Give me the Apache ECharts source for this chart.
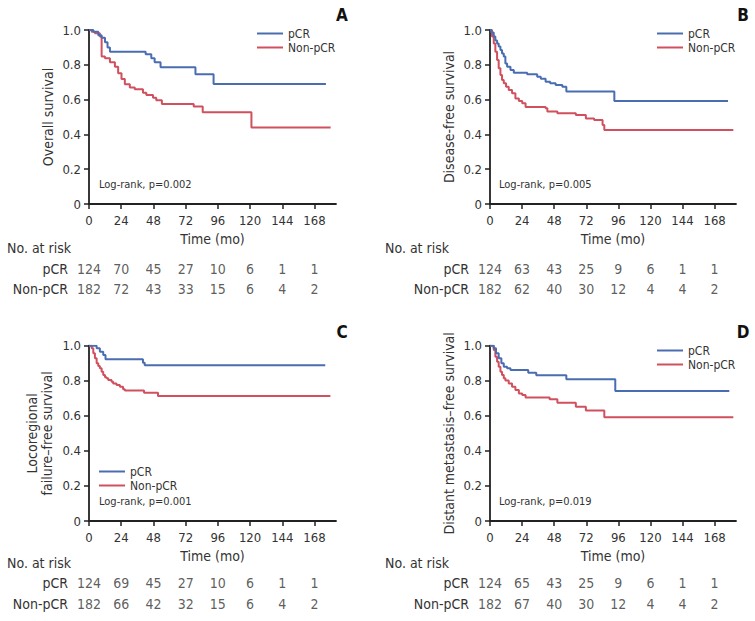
<!DOCTYPE html>
<html>
<head>
<meta charset="utf-8">
<script src="https://cdn.jsdelivr.net/npm/echarts@6/dist/echarts.min.js"></script>
<style>
html,body{margin:0;padding:0;background:#fff;}
#chart{width:755px;height:621px;}
</style>
</head>
<body>
<div id="chart"></div>
<script>
// ---------- DATA ----------
const timeTicks = [0, 24, 48, 72, 96, 120, 144, 168];
const groupNames = ['pCR', 'Non-pCR'];
const panelLetters = ['A', 'B', 'C', 'D'];
const yAxisNames = ['Overall survival', 'Disease-free survival', 'Locoregional\nfailure\u2013free survival', 'Distant metastasis\u2013free survival'];
const logRankTexts = ['Log-rank, p=0.002', 'Log-rank, p=0.005', 'Log-rank, p=0.001', 'Log-rank, p=0.019'];

// Kaplan-Meier steps [time (mo), survival]
const osPcr = [[0,1],[3.2,0.99],[6.9,0.97],[9.4,0.955],[11.9,0.93],[13.8,0.9],[15.6,0.875],[42.2,0.86],[46.4,0.837],[48.9,0.814],[53.3,0.786],[79.3,0.745],[92.8,0.69],[176.5,0.69]];
const osNon = [[0,1],[2,0.99],[4.4,0.981],[8.1,0.962],[9.4,0.847],[11.9,0.837],[15.6,0.814],[19.3,0.789],[21.7,0.751],[24.2,0.718],[26.7,0.688],[30.4,0.67],[34.1,0.659],[40.2,0.64],[42.7,0.626],[47.7,0.611],[50.1,0.596],[54.3,0.575],[78,0.56],[84.7,0.527],[121,0.439],[180,0.439]];
const dfsPcr = [[0,1],[1,0.985],[2.8,0.962],[4,0.94],[5.3,0.923],[6.5,0.905],[7.8,0.885],[9,0.865],[10.3,0.847],[11.5,0.808],[12.8,0.789],[15.3,0.77],[17.8,0.755],[27.8,0.745],[35.3,0.732],[38,0.72],[41.6,0.703],[45,0.694],[49.1,0.684],[54.1,0.674],[57.1,0.646],[93,0.592],[178,0.592]];
const dfsNon = [[0,1],[1.5,0.962],[2.8,0.923],[4,0.875],[5.3,0.828],[6.5,0.78],[7.8,0.741],[9,0.713],[10.3,0.694],[12,0.674],[14,0.655],[16.5,0.636],[19,0.607],[21.6,0.592],[24.1,0.579],[26.6,0.557],[41.6,0.55],[42.9,0.531],[50.4,0.521],[64.2,0.511],[71.7,0.492],[77.9,0.483],[84.2,0.454],[85.5,0.425],[182,0.425]];
const lrPcr = [[0,1],[4.4,1],[5.7,0.985],[8.1,0.966],[10.6,0.947],[12.3,0.922],[40.2,0.903],[41.5,0.888],[176,0.888]];
const lrNon = [[0,1],[2,0.985],[3.2,0.957],[4.4,0.928],[5.7,0.9],[6.9,0.884],[8.1,0.871],[9.4,0.852],[10.6,0.833],[11.9,0.82],[13.1,0.814],[14.3,0.804],[16.8,0.795],[18,0.785],[20.5,0.776],[23,0.766],[25.4,0.751],[26.7,0.744],[41,0.732],[51.4,0.713],[179.8,0.713]];
const dmPcr = [[0,1],[2.8,0.985],[4.5,0.957],[6.5,0.928],[8.5,0.9],[10.3,0.88],[12.8,0.871],[15.3,0.862],[28.6,0.846],[34.6,0.831],[57.1,0.808],[93.7,0.742],[179,0.742]];
const dmNon = [[0,1],[2.8,0.976],[4,0.937],[5.3,0.909],[6.5,0.88],[7.8,0.852],[9,0.833],[10.3,0.814],[11.5,0.801],[14,0.785],[16.5,0.766],[19,0.747],[21.6,0.728],[24.1,0.719],[26.6,0.705],[44.6,0.694],[50.4,0.675],[64.2,0.652],[71.7,0.63],[85.5,0.592],[182,0.592]];

// Numbers at risk
const osRiskPcr = [124, 70, 45, 27, 10, 6, 1, 1];
const osRiskNon = [182, 72, 43, 33, 15, 6, 4, 2];
const dfsRiskPcr = [124, 63, 43, 25, 9, 6, 1, 1];
const dfsRiskNon = [182, 62, 40, 30, 12, 4, 4, 2];
const lrRiskPcr = [124, 69, 45, 27, 10, 6, 1, 1];
const lrRiskNon = [182, 66, 42, 32, 15, 6, 4, 2];
const dmRiskPcr = [124, 65, 43, 25, 9, 6, 1, 1];
const dmRiskNon = [182, 67, 40, 30, 12, 4, 4, 2];

// ---------- STYLE / LAYOUT ----------
const FONT = "'Liberation Sans Narrow','DejaVu Sans Condensed','Arial Narrow',sans-serif";
const TXT = '#333';
const AX = '#222';
const BLUE = '#4a6db1';
const RED = '#d0505e';
const X_MAX = 184;

const curves = [[osPcr, osNon], [dfsPcr, dfsNon], [lrPcr, lrNon], [dmPcr, dmNon]];
const risks = [[osRiskPcr, osRiskNon], [dfsRiskPcr, dfsRiskNon], [lrRiskPcr, lrRiskNon], [dmRiskPcr, dmRiskNon]];

const layout = [
  {left: 89,  top: 30,    w: 247, h: 174,   tTop: 259.7, tH: 38.6, legend: [257, 27],  logrank: [99, 184],  letter: [342, 15],  risk: [7, 248]},
  {left: 490, top: 30,    w: 246, h: 174,   tTop: 259.7, tH: 38.6, legend: [657, 27],  logrank: [499, 184], letter: [743, 15],  risk: [385, 248]},
  {left: 89,  top: 345.7, w: 247, h: 175.3, tTop: 573,   tH: 41,   legend: [99, 465],  logrank: [99, 501],  letter: [342, 332], risk: [7, 563]},
  {left: 490, top: 345.7, w: 246, h: 175.3, tTop: 573,   tH: 41,   legend: [657, 344], logrank: [499, 501], letter: [743, 332], risk: [385, 563]}
];

const grid = [], xAxis = [], yAxis = [], series = [], legend = [], graphic = [];

layout.forEach((L, i) => {
  const gPlot = 2 * i, gTab = 2 * i + 1;
  grid.push({left: L.left, top: L.top, width: L.w, height: L.h});
  grid.push({left: L.left, top: L.tTop, width: L.w, height: L.tH});

  xAxis.push({
    type: 'value', gridIndex: gPlot, min: 0, max: X_MAX,
    axisLine: {show: true, onZero: false, lineStyle: {color: AX, width: 1.8}},
    axisTick: {show: true, length: 5, customValues: timeTicks, lineStyle: {color: AX, width: 1.5}},
    axisLabel: {customValues: timeTicks, margin: 10, fontSize: 13, color: TXT, fontFamily: FONT},
    splitLine: {show: false},
    name: 'Time (mo)', nameLocation: 'middle', nameGap: 28,
    nameTextStyle: {fontSize: 14, color: TXT, fontFamily: FONT}
  });
  xAxis.push({type: 'value', gridIndex: gTab, min: 0, max: X_MAX, show: false});

  yAxis.push({
    type: 'value', gridIndex: gPlot, min: 0, max: 1, interval: 0.2,
    axisLine: {show: true, onZero: false, lineStyle: {color: AX, width: 1.8}},
    axisTick: {show: true, length: 5, lineStyle: {color: AX, width: 1.5}},
    axisLabel: {margin: 8, fontSize: 13, color: TXT, fontFamily: FONT,
      formatter: v => (v === 0 ? '0' : v.toFixed(1))},
    splitLine: {show: false},
    name: yAxisNames[i], nameLocation: 'middle', nameGap: i === 2 ? 35 : 34,
    nameTextStyle: {fontSize: 14, color: TXT, fontFamily: FONT, lineHeight: 15}
  });
  yAxis.push({
    type: 'category', gridIndex: gTab, data: groupNames, inverse: true,
    axisLine: {show: false}, axisTick: {show: false},
    axisLabel: {interval: 0, margin: 21, fontSize: 14, color: TXT, fontFamily: FONT}
  });

  [BLUE, RED].forEach((c, k) => {
    series.push({
      type: 'line', name: groupNames[k], xAxisIndex: gPlot, yAxisIndex: gPlot,
      data: curves[i][k], step: 'end', symbol: 'none', silent: true,
      lineStyle: {color: c, width: 2}, itemStyle: {color: c}, z: k === 0 ? 3 : 2
    });
    series.push({
      type: 'scatter', xAxisIndex: gTab, yAxisIndex: gTab, silent: true,
      symbolSize: 1, itemStyle: {color: 'rgba(0,0,0,0)'},
      data: timeTicks.map((t, j) => [t, groupNames[k], risks[i][k][j]]),
      label: {show: true, position: 'inside', formatter: p => String(p.value[2]),
        fontSize: 14, color: TXT, fontFamily: FONT}
    });
  });

  legend.push({
    left: L.legend[0], top: L.legend[1], orient: 'vertical',
    icon: 'rect', itemWidth: 26, itemHeight: 2, itemGap: 1, padding: 0,
    selectedMode: false, data: groupNames,
    textStyle: {fontSize: 12, color: TXT, fontFamily: FONT, lineHeight: 13}
  });

  graphic.push({type: 'text', x: L.logrank[0], y: L.logrank[1],
    style: {text: logRankTexts[i], fontSize: 11, fill: TXT, fontFamily: FONT, align: 'left', verticalAlign: 'middle'}});
  graphic.push({type: 'text', x: L.letter[0], y: L.letter[1],
    style: {text: panelLetters[i], fontSize: 17, fontWeight: 'bold', fill: '#111', fontFamily: FONT, align: 'center', verticalAlign: 'middle'}});
  graphic.push({type: 'text', x: L.risk[0], y: L.risk[1],
    style: {text: 'No. at risk', fontSize: 14, fill: TXT, fontFamily: FONT, align: 'left', verticalAlign: 'middle'}});
});

const chart = echarts.init(document.getElementById('chart'), null, {renderer: 'svg'});
chart.setOption({
  backgroundColor: '#fff',
  animation: false,
  textStyle: {fontFamily: FONT},
  grid, xAxis, yAxis, series, legend, graphic
});
</script>
</body>
</html>
